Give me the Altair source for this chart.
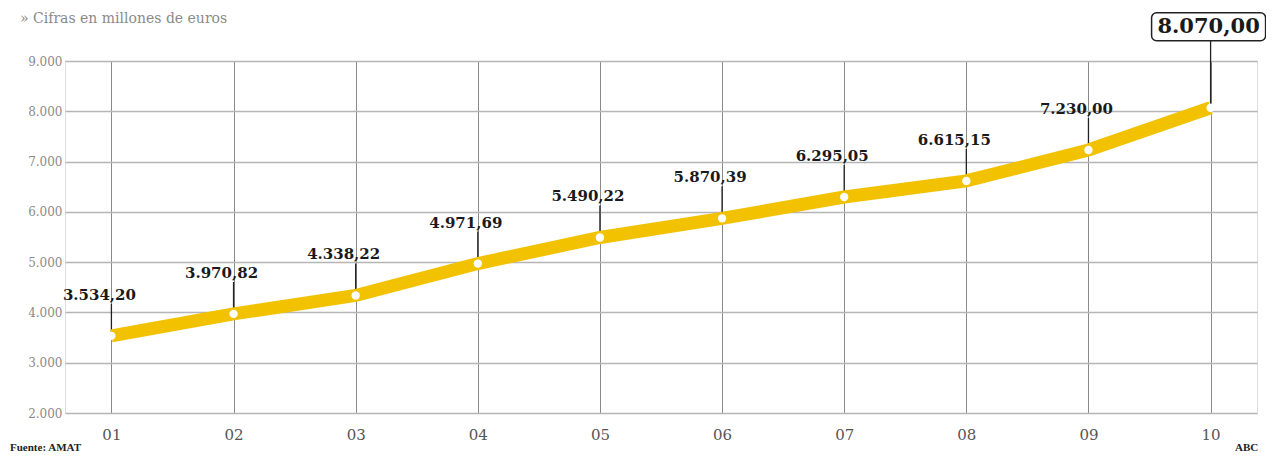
import altair as alt
import pandas as pd

years = ["01", "02", "03", "04", "05", "06", "07", "08", "09", "10"]
values = [3534.20, 3970.82, 4338.22, 4971.69, 5490.22, 5870.39, 6295.05, 6615.15, 7230.00, 8070.00]
y_ticks = [2000, 3000, 4000, 5000, 6000, 7000, 8000, 9000]


def es(v):
    s = f"{v:,.2f}"
    return s.replace(",", "#").replace(".", ",").replace("#", ".")


df = pd.DataFrame({"year": years, "value": values, "label": [es(v) for v in values]})
df["last"] = df["year"] == years[-1]

serif = "DejaVu Serif"

x = alt.X("year:O", scale=alt.Scale(type="point", padding=0.38),
          axis=alt.Axis(title=None, labelAngle=0, labelFont=serif, labelFontSize=15,
                        labelColor="#555555", labelPadding=14, ticks=False, domain=False,
                        grid=True, gridColor="#8a8a8a", gridWidth=1))
y = alt.Y("value:Q", scale=alt.Scale(domain=[2000, 9000], nice=False, zero=False),
          axis=alt.Axis(title=None, values=y_ticks, labelFont=serif, labelFontSize=12,
                        labelColor="#8a8a8a", labelPadding=3, ticks=False, domain=False,
                        gridColor="#b5b5b5", gridWidth=1.5,
                        labelExpr="replace(format(datum.value, ','), ',', '.')"))

base = alt.Chart(df)

leaders = base.transform_filter("!datum.last").mark_rule(
    color="#222222", strokeWidth=1.3, y2Offset=-32
).encode(x=x, y=y, x2="year:O", y2="value:Q")

leader_last = base.transform_filter("datum.last").mark_rule(
    color="#222222", strokeWidth=1.3, y2Offset=-67
).encode(x=x, y=y, x2="year:O", y2="value:Q")

line = base.mark_line(color="#F2C200", strokeWidth=13, strokeCap="butt").encode(x=x, y=y)

pts = base.mark_point(filled=True, color="white", size=70, opacity=1).encode(x=x, y=y)

labels = base.transform_filter("!datum.last").mark_text(
    font=serif, fontWeight="bold", fontSize=15, color="#1a1a1a",
    baseline="middle", yOffset=-41, xOffset=-12
).encode(x=x, y=y, text="label:N")

box = base.transform_filter("datum.last").mark_rect(
    fill="white", stroke="#222222", strokeWidth=1.5, cornerRadius=5,
    xOffset=-59, x2Offset=55, yOffset=-95, y2Offset=-67
).encode(x=x, y=y, x2="year:O", y2="value:Q")

label_last = base.transform_filter("datum.last").mark_text(
    font=serif, fontWeight="bold", fontSize=21, color="#1a1a1a",
    baseline="middle", yOffset=-81, xOffset=-2
).encode(x=x, y=y, text="label:N")

subtitle = alt.Chart(pd.DataFrame({"t": ["» Cifras en millones de euros"]})).mark_text(
    font=serif, fontSize=14, color="#8a8a8a", align="left", baseline="alphabetic"
).encode(x=alt.value(-45), y=alt.value(-38), text="t:N")

source = alt.Chart(pd.DataFrame({"t": ["Fuente: AMAT"]})).mark_text(
    font="Liberation Serif", fontSize=11, fontWeight="bold", color="#222222", align="left",
    baseline="middle"
).encode(x=alt.value(-55), y=alt.value(387), text="t:N")

abc = alt.Chart(pd.DataFrame({"t": ["ABC"]})).mark_text(
    font="Liberation Serif", fontSize=11, fontWeight="bold", color="#222222", align="left",
    baseline="middle"
).encode(x=alt.value(1170), y=alt.value(387), text="t:N")

chart = alt.layer(
    leaders, leader_last, line, pts, labels, box, label_last, subtitle, source, abc
).properties(
    width=1192, height=352,
    autosize=alt.AutoSizeParams(type="none"),
    padding={"left": 57, "top": 53, "right": 9, "bottom": 44},
).configure_view(stroke=None).configure(background="white")

chart.save("out.html", embed_options={"renderer": "svg", "actions": False})
